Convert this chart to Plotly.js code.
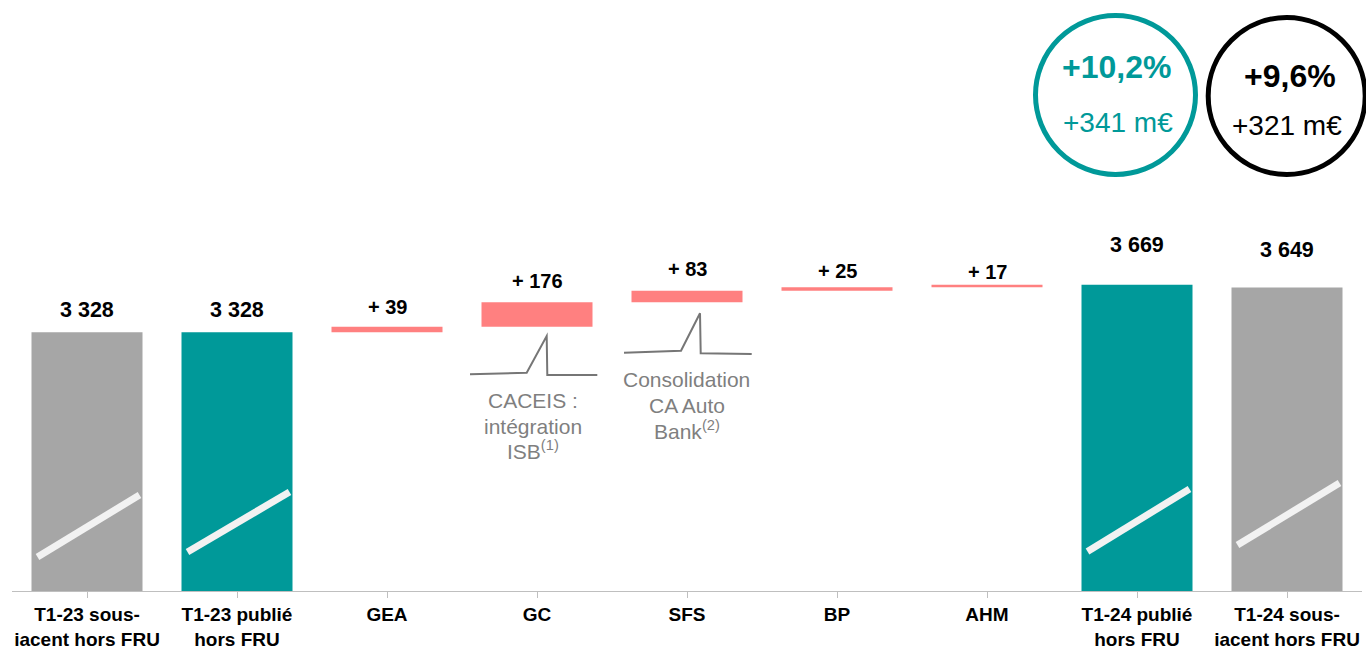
<!DOCTYPE html>
<html>
<head>
<meta charset="utf-8">
<script src="https://cdn.plot.ly/plotly-3.0.1.min.js"></script>
<style>
  html, body { margin: 0; padding: 0; background: #fff; }
  #chart { width: 1366px; height: 646px; }
</style>
</head>
<body>
<div id="chart"></div>
<script>
// ---- data ----
const categories = [
  'T1-23 sous-<br>jacent hors FRU',
  'T1-23 publié<br>hors FRU',
  'GEA', 'GC', 'SFS', 'BP', 'AHM',
  'T1-24 publié<br>hors FRU',
  'T1-24 sous-<br>jacent hors FRU'
];
const values = [3328, 3328, 39, 176, 83, 25, 17, 3669, 3649];
const kinds = ['total', 'total', 'delta', 'delta', 'delta', 'delta', 'delta', 'total', 'total'];
const valueLabels = ['3 328', '3 328', '+ 39', '+ 176', '+ 83', '+ 25', '+ 17', '3 669', '3 649'];
const circleMain = ['+10,2%', '+9,6%'];
const circleSub = ['+341 m€', '+321 m€'];
const noteCaceis = ['CACEIS :', 'intégration', 'ISB<sup>(1)</sup>'];
const noteCaAuto = ['Consolidation', 'CA Auto', 'Bank<sup>(2)</sup>'];

// ---- style / layout config ----
const TEAL = '#009999', GREY = '#a6a6a6', PINK = '#ff8080';
const totalColors = [GREY, TEAL, null, null, null, null, null, TEAL, GREY];
const FONT = 'Arial, "Liberation Sans", sans-serif';
const M = {l: 12, r: 4, t: 20, b: 55};
const W = 1366, H = 646;
const plotW = W - M.l - M.r, plotH = H - M.t - M.b;
const yRange = [1476, 5564];
const labelShift = [22, 22, 20, 21, 21.5, 16.5, 13, 40, 37];

// pixel -> axis helpers for decorations
const yv = py => yRange[1] - (py - M.t) * (yRange[1] - yRange[0]) / plotH;
const xv = px => (px - M.l) / plotW * categories.length - 0.5;
const pxp = px => (px - M.l) / plotW;
const pyp = py => (H - M.b - py) / plotH;

// ---- compute bar bases ----
const bases = [], heights = [], colors = [];
let running = 0;
values.forEach((v, i) => {
  if (kinds[i] === 'total') {
    bases.push(0); heights.push(v); colors.push(totalColors[i]);
    running = v;
  } else {
    bases.push(running); heights.push(v); colors.push(PINK);
    running += v;
  }
});
const tops = bases.map((b, i) => b + heights[i]);
const xs = categories.map((c, i) => i);

const trace = {
  type: 'bar',
  x: xs,
  y: heights,
  base: bases,
  marker: {color: colors, line: {width: 0}},
  hoverinfo: 'skip',
  width: 0.74
};

const annotations = [];
valueLabels.forEach((t, i) => {
  annotations.push({
    x: i, y: tops[i], xref: 'x', yref: 'y', text: t, showarrow: false,
    yanchor: 'middle', yshift: labelShift[i],
    font: {family: FONT, size: kinds[i] === 'total' ? 21.5 : 20, color: '#000', weight: 'bold'}
  });
});

// circle texts
const circleCenters = [[1116.5, 67, 1118, 123], [1290, 76, 1287, 125.5]];
const circleColors = [TEAL, '#000'];
circleMain.forEach((t, k) => {
  const c = circleCenters[k];
  annotations.push({x: pxp(c[0]), y: pyp(c[1]), xref: 'paper', yref: 'paper', text: t, showarrow: false,
    xanchor: 'center', yanchor: 'middle',
    font: {family: FONT, size: 32, color: circleColors[k], weight: 'bold'}});
  annotations.push({x: pxp(c[2]), y: pyp(c[3]), xref: 'paper', yref: 'paper', text: circleSub[k], showarrow: false,
    xanchor: 'center', yanchor: 'middle',
    font: {family: FONT, size: 28, color: circleColors[k]}});
});

// notes
const noteGrey = '#7f7f7f';
const notePos = [[533, [400, 426, 450]], [686.5, [379, 405, 430]]];
[noteCaceis, noteCaAuto].forEach((lines, k) => {
  lines.forEach((t, j) => {
    annotations.push({x: pxp(notePos[k][0]), y: pyp(notePos[k][1][j]), xref: 'paper', yref: 'paper',
      text: t, showarrow: false, xanchor: 'center', yanchor: 'middle',
      font: {family: FONT, size: 21, color: noteGrey}});
  });
});

// shapes
const shapes = [];
// break slashes on total bars
const slashY = {0: [557, 495], 1: [552, 492], 7: [551.5, 489], 8: [545, 483]};
Object.keys(slashY).forEach(k => {
  const i = +k;
  shapes.push({type: 'line', xref: 'x', yref: 'y', x0: i - 0.33, x1: i + 0.35,
    y0: yv(slashY[k][0]), y1: yv(slashY[k][1]), line: {color: '#f2f2f2', width: 7}});
});
// callout brackets
const bracketPts = [
  [[470, 374.3], [526.7, 372.7], [546.7, 336], [547.3, 375], [597.3, 375]],
  [[624, 352.7], [681, 350.7], [700, 313.3], [700.7, 353.3], [751.7, 354]]
];
bracketPts.forEach(pts => {
  const path = pts.map((p, j) => (j ? 'L' : 'M') + pxp(p[0]).toFixed(5) + ',' + pyp(p[1]).toFixed(5)).join(' ');
  shapes.push({type: 'path', xref: 'paper', yref: 'paper', path: path, line: {color: '#767676', width: 2}});
});
// circles
const circ = [[1115.5, 95, 80, 79.5, TEAL], [1286.7, 96, 78.5, 78.5, '#000']];
circ.forEach(c => {
  shapes.push({type: 'circle', xref: 'paper', yref: 'paper',
    x0: pxp(c[0] - c[2]), x1: pxp(c[0] + c[2]), y0: pyp(c[1] + c[3]), y1: pyp(c[1] - c[3]),
    line: {color: c[4], width: 5}, fillcolor: 'rgba(0,0,0,0)'});
});

const layout = {
  width: W, height: H,
  margin: M,
  paper_bgcolor: '#fff', plot_bgcolor: '#fff',
  showlegend: false,
  bargap: 0.26,
  xaxis: {
    range: [-0.5, categories.length - 0.5],
    tickmode: 'array', tickvals: xs, ticktext: categories,
    tickson: 'boundaries', ticks: 'outside', ticklen: 6, tickcolor: '#bfbfbf', tickwidth: 1,
    showline: true, linecolor: '#bfbfbf', linewidth: 1,
    showgrid: false, zeroline: false,
    tickfont: {family: FONT, size: 19, color: '#000', weight: 'bold'},
    fixedrange: true
  },
  yaxis: {range: yRange, visible: false, showgrid: false, zeroline: false, fixedrange: true},
  annotations: annotations,
  shapes: shapes
};

Plotly.newPlot('chart', [trace], layout, {displayModeBar: false, staticPlot: true});
</script>
</body>
</html>
